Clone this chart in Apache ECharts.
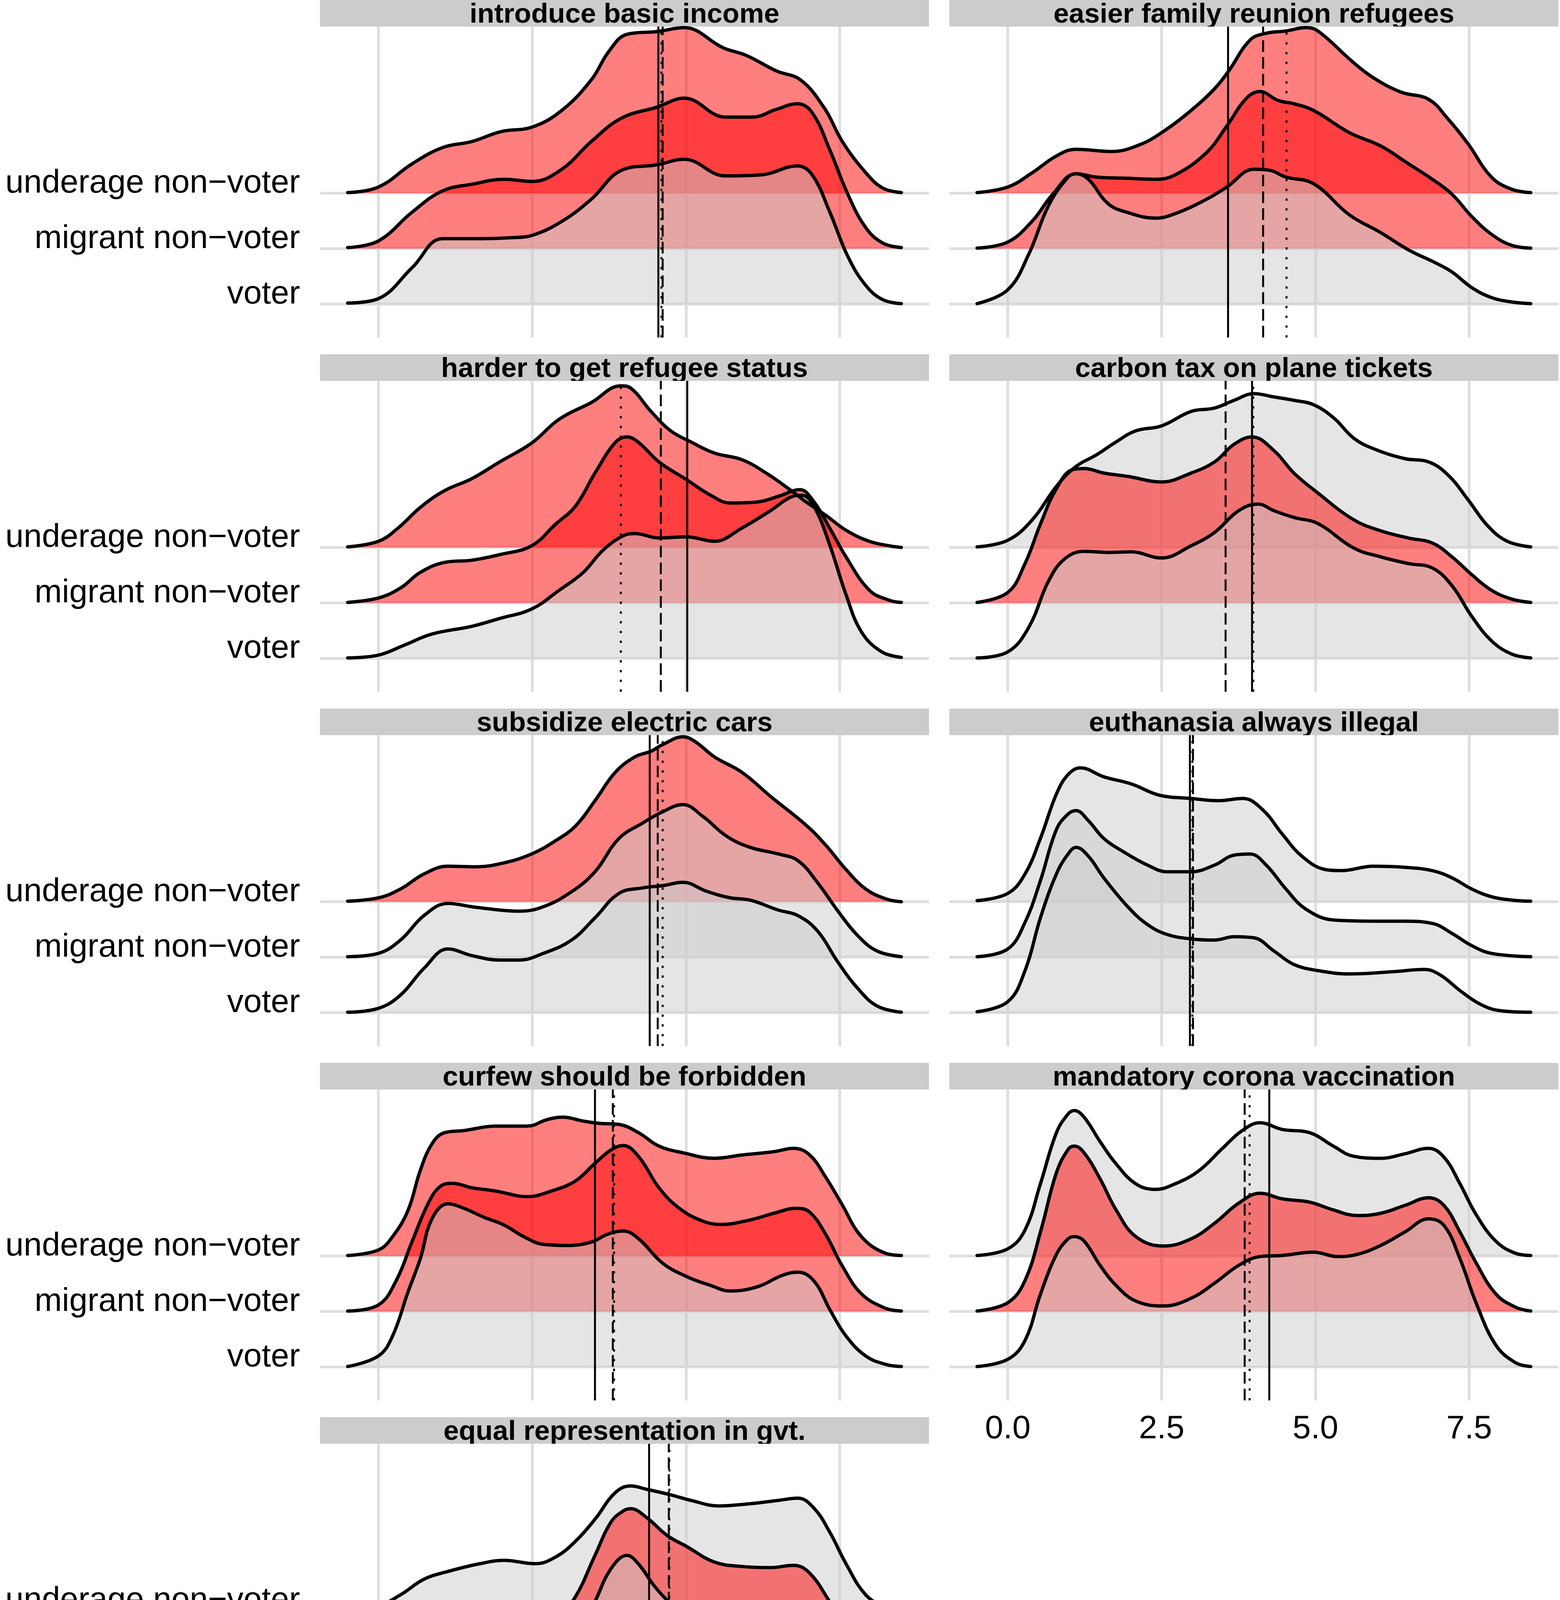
<!DOCTYPE html>
<html>
<head>
<meta charset="utf-8">
<script src="https://cdn.jsdelivr.net/npm/echarts@6/dist/echarts.min.js"></script>
<style>
  html, body { margin: 0; padding: 0; background: #ffffff; }
  #chart { width: 3993px; height: 5035px; }
</style>
</head>
<body>
<div id="chart"></div>
<script>
// ---------------- DATA ----------------
const xTickValues = [0, 2.5, 5, 7.5];
const groupLabels = ['voter', 'migrant non\u2212voter', 'underage non\u2212voter'];
const panelTitles = [
  'introduce basic income', 'easier family reunion refugees',
  'harder to get refugee status', 'carbon tax on plane tickets',
  'subsidize electric cars', 'euthanasia always illegal',
  'curfew should be forbidden', 'mandatory corona vaccination',
  'equal representation in gvt.'
];

// ridge outlines: [score, ridge height in row units]
const basicIncomeVoter = [[-0.5,0.02],[0,0.10],[0.55,0.66],[1.04,1.18],[1.52,1.18],[2.2,1.2],[2.5,1.24],[2.98,1.49],[3.46,1.89],[3.95,2.41],[4.53,2.51],[4.97,2.61],[5.64,2.31],[6.23,2.33],[6.81,2.49],[7.05,2.33],[7.34,1.65],[7.63,0.86],[7.92,0.34],[8.2,0.08],[8.5,0.01]];
const basicIncomeMigrant = [[-0.5,0.02],[0,0.14],[0.55,0.66],[1.04,1.04],[1.52,1.16],[2.05,1.25],[2.5,1.21],[2.98,1.43],[3.46,1.93],[3.95,2.35],[4.53,2.55],[4.97,2.71],[5.64,2.37],[6.08,2.37],[6.47,2.51],[6.81,2.61],[7.05,2.45],[7.34,1.77],[7.63,0.98],[7.92,0.38],[8.2,0.10],[8.5,0.02]];
const basicIncomeUnderage = [[-0.5,0.01],[0,0.11],[0.55,0.53],[1.04,0.82],[1.52,0.93],[2.0,1.11],[2.5,1.19],[2.98,1.49],[3.46,2.04],[3.75,2.56],[4.04,2.86],[4.53,2.91],[4.97,2.98],[5.6,2.62],[5.98,2.48],[6.47,2.2],[6.86,2.04],[7.25,1.53],[7.54,0.93],[7.92,0.37],[8.2,0.09],[8.5,0.01]];

const reunionVoter = [[-0.5,0.01],[0,0.26],[0.34,0.9],[0.66,1.77],[0.98,2.29],[1.11,2.35],[1.31,2.25],[1.63,1.81],[1.95,1.65],[2.4,1.55],[2.72,1.63],[3.23,1.89],[3.56,2.11],[4.0,2.43],[4.26,2.41],[4.52,2.29],[4.97,2.17],[5.55,1.61],[6.06,1.29],[6.51,0.98],[6.96,0.74],[7.22,0.58],[7.54,0.3],[7.86,0.12],[8.19,0.04],[8.5,0.01]];
const reunionMigrant = [[-0.5,0.01],[0,0.12],[0.4,0.5],[0.73,0.98],[1.11,1.35],[1.43,1.29],[1.88,1.27],[2.4,1.25],[2.72,1.33],[3.23,1.73],[3.56,2.21],[3.88,2.71],[4.1,2.83],[4.39,2.67],[4.65,2.61],[4.97,2.49],[5.55,2.09],[6.06,1.85],[6.51,1.53],[6.9,1.25],[7.22,0.98],[7.54,0.58],[7.86,0.26],[8.19,0.06],[8.5,0.01]];
const reunionUnderage = [[-0.5,0.01],[0,0.11],[0.4,0.37],[0.79,0.67],[1.11,0.79],[1.69,0.75],[2.14,0.87],[2.5,1.09],[2.98,1.49],[3.36,1.88],[3.59,2.2],[3.94,2.76],[4.2,2.88],[4.52,2.92],[4.84,2.98],[5.04,2.92],[5.61,2.36],[5.94,2.08],[6.39,1.82],[6.84,1.69],[7.16,1.33],[7.48,0.89],[7.86,0.29],[8.19,0.07],[8.5,0.01]];

const refugeeVoter = [[-0.5,0.01],[0,0.06],[0.42,0.24],[0.87,0.44],[1.52,0.58],[1.97,0.72],[2.49,0.89],[2.94,1.23],[3.33,1.55],[3.65,1.95],[3.98,2.21],[4.17,2.25],[4.56,2.17],[5.01,2.19],[5.46,2.11],[5.91,2.35],[6.37,2.66],[6.69,2.9],[6.88,2.94],[7.08,2.74],[7.34,2.03],[7.6,1.15],[7.85,0.48],[8.18,0.12],[8.5,0.02]];
const refugeeMigrant = [[-0.5,0.01],[0,0.09],[0.36,0.27],[0.68,0.55],[1.07,0.73],[1.52,0.77],[1.97,0.87],[2.49,1.03],[2.88,1.42],[3.2,1.74],[3.52,2.34],[3.85,2.89],[4.04,2.99],[4.23,2.89],[4.56,2.54],[5.01,2.22],[5.4,1.94],[5.72,1.8],[6.17,1.82],[6.5,1.92],[6.85,2.04],[7.08,1.82],[7.34,1.34],[7.6,0.83],[7.98,0.23],[8.3,0.05],[8.5,0.01]];
const refugeeUnderage = [[-0.5,0.01],[0,0.11],[0.32,0.35],[0.68,0.72],[1.07,1.02],[1.52,1.24],[1.97,1.54],[2.49,1.88],[2.94,2.31],[3.46,2.61],[3.94,2.91],[4.1,2.87],[4.43,2.45],[4.75,2.1],[5.08,1.9],[5.46,1.7],[5.91,1.58],[6.3,1.34],[6.69,1.04],[6.95,0.82],[7.27,0.58],[7.6,0.31],[7.98,0.11],[8.3,0.03],[8.5,0.0]];

const carbonVoter = [[-0.5,0.01],[0,0.12],[0.34,0.56],[0.66,1.39],[0.92,1.79],[1.24,1.93],[1.63,1.91],[2.01,1.92],[2.5,1.81],[2.98,2.03],[3.36,2.27],[3.75,2.66],[4.07,2.78],[4.33,2.66],[4.65,2.54],[5.04,2.43],[5.62,1.99],[6.06,1.83],[6.51,1.71],[6.9,1.63],[7.22,1.31],[7.54,0.76],[7.86,0.32],[8.19,0.08],[8.5,0.01]];
const carbonMigrant = [[-0.5,0.01],[0,0.19],[0.28,0.71],[0.53,1.42],[0.79,2.06],[1.05,2.4],[1.24,2.42],[1.56,2.34],[1.95,2.28],[2.5,2.18],[2.98,2.34],[3.36,2.54],[3.68,2.86],[3.97,2.99],[4.33,2.74],[4.65,2.34],[5.04,1.98],[5.62,1.5],[6.06,1.3],[6.51,1.17],[6.9,1.08],[7.22,0.83],[7.54,0.51],[7.86,0.23],[8.19,0.07],[8.5,0.01]];
const carbonUnderage = [[-0.5,0.01],[0,0.13],[0.4,0.5],[0.79,1.1],[1.11,1.46],[1.43,1.66],[1.76,1.9],[2.08,2.1],[2.5,2.19],[2.98,2.45],[3.36,2.51],[3.68,2.65],[4.0,2.77],[4.33,2.71],[4.65,2.65],[4.97,2.57],[5.3,2.33],[5.62,1.97],[5.94,1.78],[6.45,1.6],[6.84,1.54],[7.16,1.3],[7.48,0.86],[7.8,0.39],[8.12,0.11],[8.5,0.01]];

const electricVoter = [[-0.5,0.01],[0,0.08],[0.36,0.32],[0.74,0.8],[1.13,1.15],[1.52,1.03],[1.97,0.95],[2.29,0.95],[2.68,1.07],[3.14,1.31],[3.52,1.71],[3.91,2.15],[4.3,2.25],[4.62,2.29],[4.95,2.35],[5.33,2.19],[5.72,2.07],[6.04,2.03],[6.5,1.85],[6.82,1.75],[7.14,1.47],[7.47,0.91],[7.79,0.44],[8.11,0.12],[8.5,0.01]];
const electricMigrant = [[-0.5,0.01],[0,0.07],[0.36,0.31],[0.74,0.75],[1.13,0.97],[1.52,0.91],[1.97,0.85],[2.29,0.83],[2.68,0.91],[3.14,1.18],[3.52,1.54],[3.91,2.14],[4.3,2.42],[4.62,2.62],[4.95,2.75],[5.27,2.54],[5.66,2.18],[6.04,1.98],[6.5,1.86],[6.82,1.74],[7.14,1.34],[7.47,0.83],[7.79,0.39],[8.11,0.11],[8.5,0.01]];
const electricUnderage = [[-0.5,0.01],[0,0.07],[0.36,0.23],[0.74,0.5],[1.13,0.64],[1.58,0.63],[2.04,0.7],[2.49,0.86],[2.88,1.1],[3.2,1.36],[3.52,1.82],[3.85,2.33],[4.17,2.61],[4.43,2.71],[4.62,2.83],[4.95,2.97],[5.14,2.89],[5.46,2.61],[5.91,2.33],[6.37,1.9],[6.95,1.38],[7.27,1.02],[7.6,0.58],[7.92,0.23],[8.25,0.05],[8.5,0.0]];

const euthanasiaVoter = [[-0.5,0.02],[0,0.2],[0.28,0.76],[0.53,1.71],[0.79,2.5],[0.98,2.86],[1.11,2.98],[1.31,2.82],[1.56,2.43],[1.95,1.91],[2.27,1.59],[2.59,1.41],[2.98,1.33],[3.36,1.31],[3.68,1.37],[4.0,1.35],[4.33,1.11],[4.65,0.87],[5.04,0.76],[5.55,0.7],[6.26,0.74],[6.77,0.78],[7.03,0.68],[7.35,0.4],[7.67,0.16],[7.99,0.04],[8.5,0.01]];
const euthanasiaMigrant = [[-0.5,0.01],[0,0.15],[0.28,0.63],[0.53,1.38],[0.79,2.3],[0.98,2.58],[1.11,2.64],[1.31,2.46],[1.56,2.14],[1.88,1.9],[2.27,1.66],[2.59,1.54],[2.98,1.54],[3.36,1.66],[3.68,1.84],[3.94,1.86],[4.2,1.66],[4.52,1.23],[4.84,0.87],[5.3,0.67],[5.94,0.65],[6.45,0.65],[6.9,0.61],[7.22,0.43],[7.54,0.21],[7.86,0.07],[8.5,0.01]];
const euthanasiaUnderage = [[-0.5,0.02],[0,0.15],[0.28,0.5],[0.53,1.14],[0.79,1.94],[0.98,2.29],[1.18,2.41],[1.56,2.25],[2.01,2.12],[2.46,1.92],[2.98,1.86],[3.43,1.82],[3.82,1.86],[4.14,1.66],[4.46,1.22],[4.78,0.82],[5.16,0.58],[5.42,0.56],[5.94,0.64],[6.45,0.62],[6.9,0.56],[7.22,0.43],[7.54,0.23],[7.86,0.09],[8.19,0.03],[8.5,0.01]];

const curfewVoter = [[-0.5,0.01],[0,0.2],[0.23,0.56],[0.48,1.35],[0.68,1.95],[0.87,2.67],[1.13,2.94],[1.39,2.86],[1.71,2.7],[2.04,2.56],[2.36,2.35],[2.68,2.21],[3.07,2.19],[3.46,2.25],[3.72,2.39],[3.98,2.45],[4.23,2.31],[4.62,1.87],[5.01,1.63],[5.4,1.47],[5.72,1.37],[6.17,1.45],[6.56,1.65],[6.82,1.71],[7.08,1.55],[7.34,1.03],[7.6,0.56],[7.92,0.2],[8.24,0.05],[8.5,0.01]];
const curfewMigrant = [[-0.5,0.01],[0,0.12],[0.29,0.56],[0.55,1.27],[0.81,1.95],[1.0,2.25],[1.2,2.31],[1.52,2.23],[1.91,2.17],[2.42,2.07],[2.81,2.17],[3.2,2.35],[3.52,2.67],[3.78,2.91],[3.98,2.99],[4.23,2.79],[4.56,2.23],[4.88,1.87],[5.27,1.63],[5.59,1.57],[6.04,1.65],[6.43,1.77],[6.79,1.86],[7.01,1.79],[7.27,1.39],[7.53,0.84],[7.85,0.32],[8.24,0.06],[8.5,0.01]];
const curfewUnderage = [[-0.5,0.01],[0,0.11],[0.23,0.35],[0.48,0.82],[0.68,1.54],[0.87,2.02],[1.07,2.22],[1.39,2.26],[1.91,2.34],[2.42,2.34],[2.75,2.46],[3.0,2.5],[3.33,2.43],[3.59,2.39],[3.91,2.37],[4.23,2.22],[4.56,1.98],[4.95,1.86],[5.46,1.76],[5.91,1.82],[6.43,1.88],[6.75,1.94],[7.01,1.82],[7.27,1.42],[7.53,0.94],[7.85,0.35],[8.24,0.05],[8.5,0.01]];

const vaccinationVoter = [[-0.5,0.01],[0,0.14],[0.28,0.48],[0.53,1.31],[0.79,2.03],[0.98,2.31],[1.08,2.35],[1.24,2.27],[1.5,1.83],[1.76,1.47],[2.08,1.19],[2.53,1.1],[2.98,1.24],[3.36,1.51],[3.75,1.83],[4.1,1.99],[4.46,2.01],[4.97,2.07],[5.36,1.99],[5.68,2.03],[6.06,2.19],[6.45,2.43],[6.84,2.67],[7.09,2.55],[7.35,1.95],[7.61,1.16],[7.93,0.4],[8.25,0.08],[8.5,0.01]];
const vaccinationMigrant = [[-0.5,0.01],[0,0.16],[0.28,0.56],[0.53,1.43],[0.79,2.5],[0.98,2.92],[1.08,2.98],[1.24,2.86],[1.5,2.39],[1.76,1.83],[2.08,1.35],[2.53,1.18],[2.98,1.31],[3.36,1.59],[3.75,1.95],[4.1,2.13],[4.46,2.03],[4.91,1.97],[5.29,1.83],[5.68,1.73],[6.06,1.77],[6.45,1.91],[6.84,2.05],[7.09,1.91],[7.35,1.43],[7.61,0.88],[7.93,0.32],[8.25,0.08],[8.5,0.01]];
const vaccinationUnderage = [[-0.5,0.01],[0,0.13],[0.28,0.47],[0.53,1.3],[0.79,2.22],[0.98,2.56],[1.08,2.62],[1.24,2.5],[1.5,2.06],[1.76,1.66],[2.08,1.3],[2.4,1.2],[2.72,1.3],[3.11,1.54],[3.49,1.94],[3.81,2.26],[4.1,2.4],[4.46,2.28],[4.91,2.22],[5.29,1.98],[5.61,1.8],[6.06,1.76],[6.45,1.84],[6.84,1.94],[7.09,1.78],[7.35,1.3],[7.61,0.75],[7.93,0.27],[8.25,0.05],[8.5,0.01]];

const representationVoter = [[-0.5,0.01],[0,0.09],[0.36,0.37],[0.74,0.72],[1.07,0.82],[1.65,0.81],[2.16,0.82],[2.55,0.92],[2.88,1.12],[3.2,1.48],[3.52,2.16],[3.78,2.75],[4.04,2.99],[4.23,2.83],[4.49,2.43],[4.75,2.12],[5.14,1.76],[5.53,1.56],[6.04,1.52],[6.69,1.48],[7.01,1.32],[7.34,0.88],[7.6,0.52],[7.92,0.17],[8.24,0.03],[8.5,0.01]];
const representationMigrant = [[-0.5,0.01],[0,0.06],[0.36,0.24],[0.74,0.48],[1.13,0.58],[1.65,0.66],[2.04,0.7],[2.55,0.66],[2.88,0.82],[3.2,1.24],[3.52,1.99],[3.78,2.59],[3.98,2.79],[4.1,2.83],[4.36,2.67],[4.69,2.35],[5.01,2.15],[5.46,1.87],[5.91,1.79],[6.37,1.77],[6.75,1.81],[7.01,1.67],[7.34,1.15],[7.6,0.72],[7.92,0.24],[8.24,0.05],[8.5,0.01]];
const representationUnderage = [[-0.5,0.01],[0,0.08],[0.36,0.28],[0.74,0.56],[1.13,0.7],[1.65,0.84],[2.04,0.9],[2.55,0.84],[2.88,0.96],[3.2,1.24],[3.52,1.64],[3.85,2.12],[4.1,2.24],[4.36,2.18],[4.75,2.08],[5.08,1.98],[5.53,1.88],[6.04,1.92],[6.5,1.98],[6.82,2.02],[7.08,1.84],[7.34,1.4],[7.6,0.84],[7.92,0.28],[8.24,0.06],[8.5,0.01]];

// group means per panel
const meanVoter    = [4.55, 3.58, 5.02, 3.97, 4.41, 2.96, 3.52, 4.25, 4.40];
const meanMigrant  = [4.62, 4.15, 4.59, 3.54, 4.54, 3.01, 3.81, 3.85, 4.72];
const meanUnderage = [4.60, 4.53, 3.94, 3.99, 4.62, 3.00, 3.83, 3.93, 4.73];

// which non-voter groups are highlighted (red) per panel
const migrantHighlighted  = [true, true, true, true, false, false, true, true, true];
const underageHighlighted = [true, true, true, false, true, false, true, false, false];

const panelDensities = [
  [basicIncomeVoter, basicIncomeMigrant, basicIncomeUnderage],
  [reunionVoter, reunionMigrant, reunionUnderage],
  [refugeeVoter, refugeeMigrant, refugeeUnderage],
  [carbonVoter, carbonMigrant, carbonUnderage],
  [electricVoter, electricMigrant, electricUnderage],
  [euthanasiaVoter, euthanasiaMigrant, euthanasiaUnderage],
  [curfewVoter, curfewMigrant, curfewUnderage],
  [vaccinationVoter, vaccinationMigrant, vaccinationUnderage],
  [representationVoter, representationMigrant, representationUnderage]
];

// ---------------- LAYOUT / STYLE ----------------
const FONT = '"Liberation Sans", Arial, Helvetica, sans-serif';
const COL_X = [819, 2430];
const PANEL_W = 1559;
const PANEL_H = 796;
const ROW_PITCH = 907;
const STRIP_H = 68;
const Y_MIN = 0.4, Y_MAX = 6.0;
const X_MIN = -0.95, X_MAX = 8.95;
const GRID_COLOR = '#dedede';
const RED_FILL = 'rgba(255,0,0,0.5)';
const GREY_FILL = 'rgba(204,204,204,0.5)';
const DASH = [30, 13];
const DOT = [6, 19];

const grids = [], xAxes = [], yAxes = [], series = [], graphics = [];

panelTitles.forEach((title, i) => {
  const row = Math.floor(i / 2), col = i % 2;
  const left = COL_X[col];
  const top = row * ROW_PITCH + STRIP_H;
  const showX = (i === 7 || i === 8);
  const showY = col === 0;

  grids.push({ left: left, top: top, width: PANEL_W, height: PANEL_H, containLabel: false });

  xAxes.push({
    gridIndex: i, type: 'value', min: X_MIN, max: X_MAX, z: 3,
    axisLine: { show: false },
    axisTick: { show: false, customValues: xTickValues },
    axisLabel: {
      show: showX, customValues: xTickValues, margin: 32,
      fontSize: 84, color: '#000', fontFamily: FONT,
      formatter: v => Number(v).toFixed(1)
    },
    splitLine: { show: true, lineStyle: { color: GRID_COLOR, width: 7 } }
  });

  yAxes.push({
    gridIndex: i, type: 'value', min: Y_MIN, max: Y_MAX, z: 3,
    axisLine: { show: false },
    axisTick: { show: showY, customValues: [1, 2, 3], length: 25, lineStyle: { color: GRID_COLOR, width: 7 } },
    axisLabel: {
      show: showY, customValues: [1, 2, 3], margin: 51,
      fontSize: 84, color: '#000', fontFamily: FONT,
      verticalAlign: 'bottom', lineHeight: 50,
      formatter: v => groupLabels[Math.round(v) - 1] || ''
    },
    splitLine: { show: true, lineStyle: { color: GRID_COLOR, width: 7 } }
  });

  // ridges: underage (top) first, then migrant, then voter on top
  const fills = [GREY_FILL, migrantHighlighted[i] ? RED_FILL : GREY_FILL, underageHighlighted[i] ? RED_FILL : GREY_FILL];
  [2, 1, 0].forEach(k => {
    const base = k + 1;
    const dens = panelDensities[i][k];
    series.push({
      type: 'line', name: groupLabels[k], xAxisIndex: i, yAxisIndex: i,
      data: dens.map(p => [p[0], base + p[1]]),
      smooth: 0.4, symbol: 'none', silent: true, z: 4,
      lineStyle: { color: '#000', width: 8.5, cap: 'round', join: 'round' },
      areaStyle: { color: fills[k], opacity: 1, origin: base }
    });
  });

  // group mean lines
  const means = [[meanVoter[i], 'solid'], [meanMigrant[i], DASH], [meanUnderage[i], DOT]];
  means.forEach(([m, type]) => {
    series.push({
      type: 'line', xAxisIndex: i, yAxisIndex: i,
      data: [[m, Y_MIN], [m, Y_MAX]],
      symbol: 'none', silent: true, z: 6,
      lineStyle: { color: '#000', width: 5, type: type, cap: 'butt' }
    });
  });

  // strip
  graphics.push({
    type: 'rect', z: 0, silent: true,
    shape: { x: left, y: row * ROW_PITCH, width: PANEL_W, height: STRIP_H },
    style: { fill: '#cccccc' }
  });
  graphics.push({
    type: 'text', z: 1, silent: true,
    x: left + PANEL_W / 2, y: row * ROW_PITCH + 38,
    style: {
      text: title, font: 'bold 71px ' + FONT, fill: '#000',
      textAlign: 'center', textVerticalAlign: 'middle', align: 'center', verticalAlign: 'middle'
    }
  });
  // clip strip-text descenders like the original
  graphics.push({
    type: 'rect', z: 2, silent: true,
    shape: { x: left, y: top, width: PANEL_W, height: 22 },
    style: { fill: '#ffffff' }
  });
});

// axis title
graphics.push({
  type: 'text', z: 5, silent: true, x: 2404, y: 4705,
  style: {
    text: 'Score: low values = disagree, high values = agree',
    font: '100px ' + FONT, fill: '#000',
    textAlign: 'center', textVerticalAlign: 'middle', align: 'center', verticalAlign: 'middle'
  }
});

// legend
const legendTexts = [
  { text: 'Group mean:', x: 878, size: 98 },
  { text: groupLabels[0], x: 1660, size: 84 },
  { text: groupLabels[1], x: 2058, size: 84 },
  { text: groupLabels[2], x: 2954, size: 84 }
];
legendTexts.forEach(t => {
  graphics.push({
    type: 'text', z: 5, silent: true, x: t.x, y: 4978,
    style: {
      text: t.text, font: t.size + 'px ' + FONT, fill: '#000',
      textAlign: 'left', textVerticalAlign: 'middle', align: 'left', verticalAlign: 'middle'
    }
  });
});
const legendGlyphs = [{ x: 1558, dash: null }, { x: 1953, dash: DASH }, { x: 2852, dash: DOT }];
legendGlyphs.forEach(g => {
  graphics.push({
    type: 'line', z: 5, silent: true,
    shape: { x1: g.x, y1: 4912, x2: g.x, y2: 5035 },
    style: { stroke: '#000', lineWidth: 5, lineDash: g.dash }
  });
});

const chart = echarts.init(document.getElementById('chart'), null, { renderer: 'canvas', width: 3993, height: 5035 });
chart.setOption({
  animation: false,
  backgroundColor: '#ffffff',
  textStyle: { fontFamily: FONT },
  grid: grids,
  xAxis: xAxes,
  yAxis: yAxes,
  series: series,
  graphic: { elements: graphics }
});
</script>
</body>
</html>
